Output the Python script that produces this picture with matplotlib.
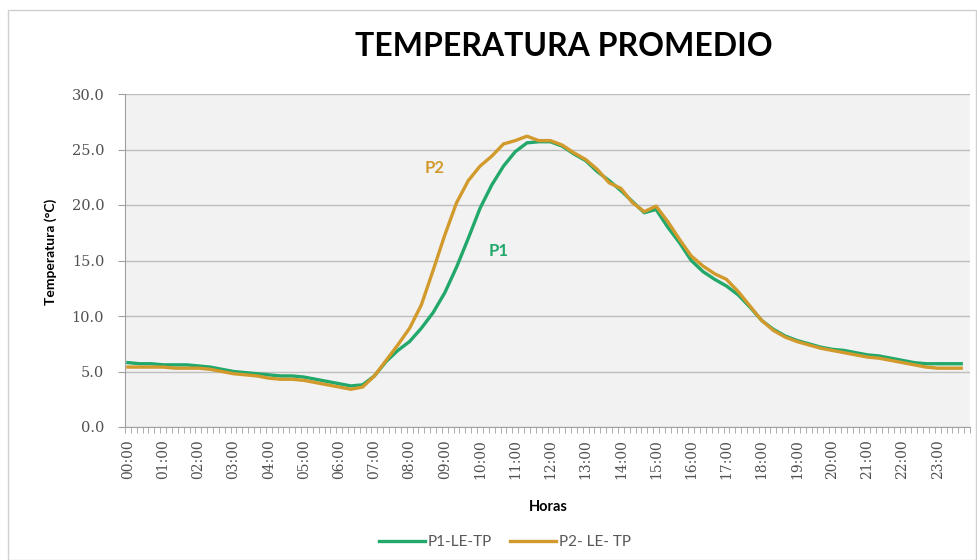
import matplotlib
matplotlib.use("Agg")
import matplotlib.pyplot as plt
from matplotlib.patches import Rectangle
from matplotlib.lines import Line2D

plt.rcParams['font.family'] = ['Lato', 'DejaVu Sans']

# Time of each sample (every 20 minutes)
times = ["%02d:%02d" % (h, m) for h in range(24) for m in (0, 20, 40)]

p1 = [5.8, 5.7, 5.7, 5.6, 5.6, 5.6, 5.5, 5.4, 5.2, 5.0, 4.9, 4.8,
      4.7, 4.6, 4.6, 4.5, 4.3, 4.1, 3.9, 3.7, 3.8, 4.6, 5.9, 6.9,
      7.7, 8.9, 10.3, 12.1, 14.4, 17.0, 19.7, 21.8, 23.5, 24.8, 25.6, 25.7,
      25.7, 25.3, 24.6, 24.0, 23.0, 22.2, 21.3, 20.3, 19.3, 19.6, 18.0, 16.6,
      15.0, 14.0, 13.3, 12.7, 11.9, 10.8, 9.6, 8.8, 8.2, 7.8, 7.5, 7.2,
      7.0, 6.9, 6.7, 6.5, 6.4, 6.2, 6.0, 5.8, 5.7, 5.7, 5.7, 5.7]

p2 = [5.4, 5.4, 5.4, 5.4, 5.3, 5.3, 5.3, 5.2, 5.0, 4.8, 4.7, 4.6,
      4.4, 4.3, 4.3, 4.2, 4.0, 3.8, 3.6, 3.4, 3.6, 4.6, 6.0, 7.4,
      8.9, 11.0, 14.1, 17.3, 20.2, 22.2, 23.5, 24.4, 25.5, 25.8, 26.2, 25.8,
      25.8, 25.4, 24.7, 24.1, 23.2, 22.0, 21.5, 20.2, 19.4, 19.9, 18.5, 16.9,
      15.4, 14.5, 13.8, 13.3, 12.2, 10.9, 9.6, 8.7, 8.1, 7.7, 7.4, 7.1,
      6.9, 6.7, 6.5, 6.3, 6.2, 6.0, 5.8, 5.6, 5.4, 5.3, 5.3, 5.3]

hour_labels = ["%02d:00" % h for h in range(24)]
y_ticks = [0, 5, 10, 15, 20, 25, 30]

x = [int(t[:2]) + int(t[3:]) / 60 for t in times]

c1 = '#22A86A'
c2 = '#D29A2C'
tick_font = ['DejaVu Serif']

fig = plt.figure(figsize=(9.77, 5.6), dpi=100)
fig.patch.set_facecolor('white')
fig.patches.append(Rectangle((8 / 977, 0), 1 - 8 / 977 - 0.001, 1 - 10 / 560,
                             transform=fig.transFigure, fill=False,
                             edgecolor='#d0d0d0', linewidth=1))

ax = fig.add_axes([125 / 977, 1 - 427 / 560, (970 - 125) / 977, (427 - 94) / 560])
ax.set_facecolor('#f2f2f2')

ax.plot(x, p1, color=c1, lw=2.4, solid_joinstyle='round', zorder=3)
ax.plot(x, p2, color=c2, lw=2.4, solid_joinstyle='round', zorder=3)

ax.set_xlim(-1 / 12, 24 - 1 / 12)
ax.set_ylim(0, 30)
ax.set_yticks(y_ticks)
ax.set_yticklabels(["%.1f" % v for v in y_ticks], fontsize=10.5, color='#505050',
                   family=tick_font)
ax.set_xticks(range(24))
ax.set_xticklabels(hour_labels, rotation=90, fontsize=10, color='#505050',
                   family=tick_font)
ax.set_xticks([-1 / 12 + k / 6 for k in range(145)], minor=True)
ax.tick_params(axis='x', which='major', length=0, pad=9)
ax.tick_params(axis='x', which='minor', length=4, color='#a0a0a0', width=0.6)
ax.tick_params(axis='y', length=5, color='#a0a0a0', pad=10)

ax.grid(axis='y', color='#bdbdbd', lw=1)
ax.set_axisbelow(True)
for s in ['top', 'right']:
    ax.spines[s].set_visible(False)
ax.spines['left'].set_color('#a0a0a0')
ax.spines['bottom'].set_color('#a0a0a0')

ax.set_xlabel('Horas', fontsize=10.5, fontweight='bold')
ax.xaxis.set_label_coords((548 - 125) / 845, -(500 - 427) / 333)
ax.set_ylabel('Temperatura (°C)', fontsize=10, fontweight='bold')
ax.yaxis.set_label_coords(-(125 - 57) / 845, (427 - 252) / 333)

ax.text(8.44, 23.3, 'P2', color=c2, fontsize=12, fontweight='bold', va='center')
ax.text(10.25, 15.9, 'P1', color=c1, fontsize=12, fontweight='bold', va='center')

fig.text(564 / 977, 1 - 47 / 560, 'TEMPERATURA PROMEDIO', ha='center', va='center',
         fontsize=23, fontweight='bold', color='black')

handles = [Line2D([], [], color=c1, lw=2.4), Line2D([], [], color=c2, lw=2.4)]
fig.legend(handles, ['P1-LE-TP', 'P2- LE- TP'], loc='center',
           bbox_to_anchor=(505 / 977, 1 - 542 / 560), ncol=2, frameon=False,
           fontsize=11, handlelength=3.0, columnspacing=1.2, handletextpad=0.2,
           labelcolor='#595959')

fig.savefig('out.png', dpi=100)
